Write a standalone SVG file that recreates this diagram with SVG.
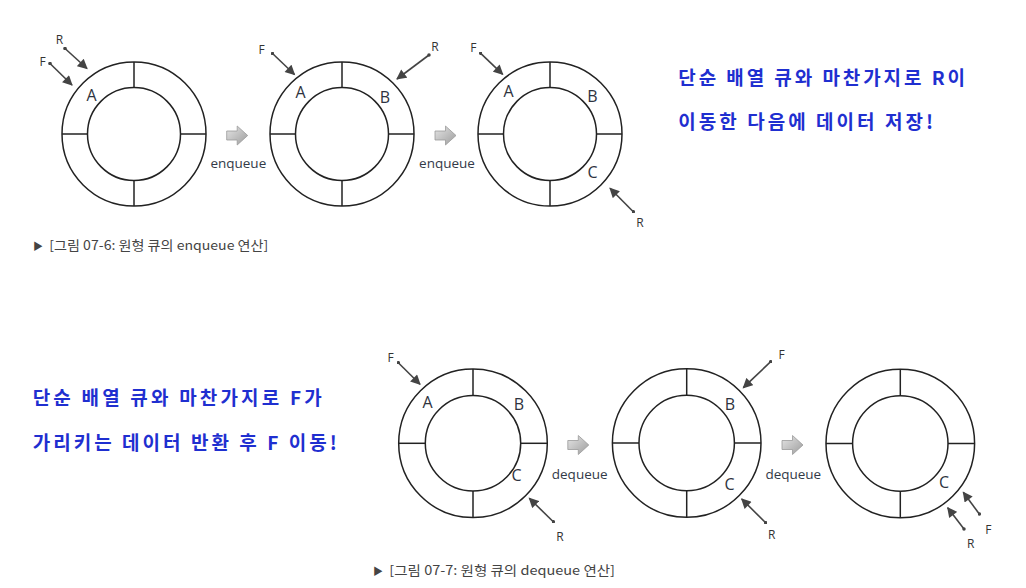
<svg xmlns="http://www.w3.org/2000/svg" xmlns:xlink="http://www.w3.org/1999/xlink" width="1026" height="588" viewBox="0 0 1026 588">
<style>
  .ring circle, .ring line { fill: none; stroke: #222; stroke-width: 1.5; }
  .cell { font-family: "Open Sans", "Liberation Sans", sans-serif; font-size: 16px; fill: #2e3340; text-anchor: middle; }
  .ptr-label { font-family: "Open Sans", "Liberation Sans", sans-serif; font-size: 12px; fill: #333; text-anchor: middle; }
  .ptr { stroke: #444; stroke-width: 1.6; fill: none; marker-end: url(#head); marker-start: url(#dot); }
  .op { fill: url(#grad); stroke: #9a9a9a; stroke-width: 0.8; }
  .op-label { font-family: "Open Sans", "Liberation Sans", sans-serif; font-size: 13.5px; fill: #333a48; text-anchor: middle; }
  .caption { font-family: "Noto Sans CJK KR", "Noto Sans", sans-serif; font-size: 13px; fill: #444; }
  .hand { font-family: "Noto Sans CJK KR", sans-serif; font-size: 19px; font-weight: bold; fill: #1f2fd0; }
</style>
<defs>
  <linearGradient id="grad" x1="0" y1="0" x2="1" y2="1">
    <stop offset="0" stop-color="#e6e6e6"/>
    <stop offset="1" stop-color="#9c9c9c"/>
  </linearGradient>
  <marker id="head" viewBox="0 0 10 10" refX="9" refY="5" markerWidth="11" markerHeight="10" markerUnits="userSpaceOnUse" orient="auto">
    <path d="M0,0 L10,5 L0,10 Z" fill="#444"/>
  </marker>
  <marker id="dot" viewBox="0 0 4 4" refX="2" refY="2" markerWidth="3.5" markerHeight="3.5" markerUnits="userSpaceOnUse">
    <circle cx="2" cy="2" r="2" fill="#444"/>
  </marker>
  <g id="ringT" class="ring">
    <circle cx="0" cy="0" r="72"/>
    <circle cx="0" cy="0" r="46.5"/>
    <line x1="0" y1="-72" x2="0" y2="-46.5"/>
    <line x1="0" y1="46.5" x2="0" y2="72"/>
    <line x1="-72" y1="0" x2="-46.5" y2="0"/>
    <line x1="46.5" y1="0" x2="72" y2="0"/>
  </g>
  <g id="ringB" class="ring">
    <circle cx="0" cy="0" r="74.3"/>
    <circle cx="0" cy="0" r="47.7"/>
    <line x1="0" y1="-74.3" x2="0" y2="-47.7"/>
    <line x1="0" y1="47.7" x2="0" y2="74.3"/>
    <line x1="-74.3" y1="0" x2="-47.7" y2="0"/>
    <line x1="47.7" y1="0" x2="74.3" y2="0"/>
  </g>
  <path id="blk" d="M-10.5,-4.5 H0 V-9.5 L10.5,0 L0,9.5 V4.5 H-10.5 Z"/>
</defs>
<rect width="1026" height="588" fill="#fff"/>

<!-- enqueue rings -->
<g id="enq1">
  <use xlink:href="#ringT" href="#ringT" x="134" y="134"/>
  <text class="cell" x="91.5" y="101">A</text>
</g>
<g id="enq2">
  <use xlink:href="#ringT" href="#ringT" x="342" y="134"/>
  <text class="cell" x="300.5" y="98">A</text>
  <text class="cell" x="385" y="103">B</text>
</g>
<g id="enq3">
  <use xlink:href="#ringT" href="#ringT" x="550" y="134"/>
  <text class="cell" x="508.5" y="97">A</text>
  <text class="cell" x="592.5" y="102">B</text>
  <text class="cell" x="592.5" y="178">C</text>
</g>

<!-- dequeue rings -->
<g id="deq1">
  <use xlink:href="#ringB" href="#ringB" x="473" y="443.3"/>
  <text class="cell" x="427.5" y="407.5">A</text>
  <text class="cell" x="519" y="410">B</text>
  <text class="cell" x="516.5" y="481">C</text>
</g>
<g id="deq2">
  <use xlink:href="#ringB" href="#ringB" x="686.7" y="443"/>
  <text class="cell" x="730" y="410" fill="#4a1e24">B</text>
  <text class="cell" x="729.5" y="490" fill="#2a4a8a">C</text>
</g>
<g id="deq3">
  <use xlink:href="#ringB" href="#ringB" x="900.3" y="443.5"/>
  <text class="cell" x="944" y="488" fill="#3a4e78">C</text>
</g>

<!-- connectors -->
<g id="connectors">
  <line class="ptr" x1="65" y1="48.5" x2="87" y2="68.5"/>
  <line class="ptr" x1="50" y1="63.5" x2="72" y2="85"/>
  <line class="ptr" x1="272.5" y1="53.5" x2="294.5" y2="74.5"/>
  <line class="ptr" x1="429" y1="55" x2="397" y2="79"/>
  <line class="ptr" x1="480.7" y1="53.3" x2="502.7" y2="74.3"/>
  <line class="ptr" x1="633.3" y1="211.7" x2="610" y2="188.3"/>

  <line class="ptr" x1="398.3" y1="362.7" x2="420" y2="384.3"/>
  <line class="ptr" x1="553.3" y1="521.7" x2="529.3" y2="498.3"/>
  <line class="ptr" x1="770.7" y1="361.7" x2="743.3" y2="387.7"/>
  <line class="ptr" x1="765.7" y1="522.7" x2="741.7" y2="499"/>
  <line class="ptr" x1="964" y1="529" x2="947.7" y2="507.7"/>
  <line class="ptr" x1="979.3" y1="514" x2="963.3" y2="492.3"/>

  <use xlink:href="#blk" href="#blk" class="op" x="237.2" y="135.5"/>
  <use xlink:href="#blk" href="#blk" class="op" x="445.5" y="135.5"/>
  <use xlink:href="#blk" href="#blk" class="op" x="578.3" y="445"/>
  <use xlink:href="#blk" href="#blk" class="op" x="792.5" y="445"/>
</g>

<!-- pointer labels -->
<g id="labels">
  <text class="ptr-label" x="59.5" y="44">R</text>
  <text class="ptr-label" x="42.5" y="65.5">F</text>
  <text class="ptr-label" x="261.5" y="54">F</text>
  <text class="ptr-label" x="435" y="51">R</text>
  <text class="ptr-label" x="473.3" y="52.3">F</text>
  <text class="ptr-label" x="640" y="226.7">R</text>

  <text class="ptr-label" x="390.7" y="362.3">F</text>
  <text class="ptr-label" x="560" y="540.7">R</text>
  <text class="ptr-label" x="781.7" y="359">F</text>
  <text class="ptr-label" x="771.7" y="539">R</text>
  <text class="ptr-label" x="970.7" y="548">R</text>
  <text class="ptr-label" x="988.3" y="534">F</text>

  <text class="op-label" x="238.3" y="168">enqueue</text>
  <text class="op-label" x="447" y="168">enqueue</text>
  <text class="op-label" x="579.7" y="478.5">dequeue</text>
  <text class="op-label" x="793.3" y="478.5">dequeue</text>
</g>

<!-- captions -->
<text class="caption" x="33" y="250"><tspan font-size="10">▶</tspan> <tspan x="49.3" textLength="219" lengthAdjust="spacingAndGlyphs">[그림 07-6: 원형 큐의 enqueue 연산]</tspan></text>
<text class="caption" x="373" y="574.5"><tspan font-size="10">▶</tspan> <tspan x="389.3" textLength="225.7" lengthAdjust="spacingAndGlyphs">[그림 07-7: 원형 큐의 dequeue 연산]</tspan></text>

<!-- handwritten notes -->
<text class="hand" x="678.3" y="85" textLength="286.7" lengthAdjust="spacing">단순 배열 큐와 마찬가지로 R이</text>
<text class="hand" x="678.3" y="128.5" textLength="254.7" lengthAdjust="spacing">이동한 다음에 데이터 저장!</text>
<text class="hand" x="32.7" y="404.5" textLength="289" lengthAdjust="spacing">단순 배열 큐와 마찬가지로 F가</text>
<text class="hand" x="32.7" y="449.5" textLength="304" lengthAdjust="spacing">가리키는 데이터 반환 후 F 이동!</text>
</svg>
